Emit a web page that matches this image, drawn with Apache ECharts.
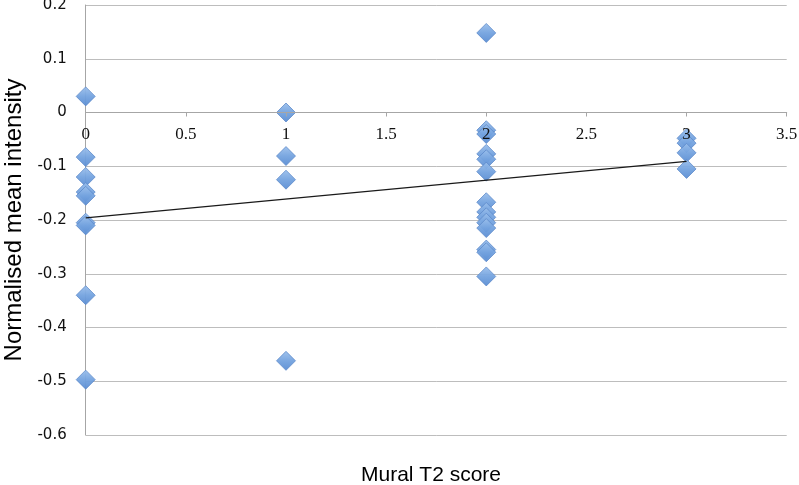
<!DOCTYPE html>
<html>
<head>
<meta charset="utf-8">
<script src="https://cdn.jsdelivr.net/npm/echarts@6/dist/echarts.min.js"></script>
<style>
html,body{margin:0;padding:0;background:#fff;}
#chart{width:799px;height:485px;}
</style>
</head>
<body>
<div id="chart"></div>
<script>
// Mural T2 score groups and normalised mean intensity values
const scores = [0, 1, 2, 3];
const valuesScore0 = [0.03, -0.083, -0.12, -0.148, -0.155, -0.205, -0.21, -0.34, -0.497];
const valuesScore1 = [0.0, -0.081, -0.125, -0.462];
const valuesScore2 = [0.148, -0.033, -0.04, -0.077, -0.087, -0.11, -0.167, -0.185, -0.195, -0.205, -0.215, -0.255, -0.26, -0.305];
const valuesScore3 = [-0.048, -0.057, -0.075, -0.105];
// linear trend line end points (x, y)
const trendX = [0, 3];
const trendY = [-0.196, -0.091];

const xTicks = ['0', '0.5', '1', '1.5', '2', '2.5', '3', '3.5'];
const yTicks = ['-0.6', '-0.5', '-0.4', '-0.3', '-0.2', '-0.1', '0', '0.1', '0.2'];
const yMin = -0.6, yMax = 0.2;

const groups = [valuesScore0, valuesScore1, valuesScore2, valuesScore3];
const points = [];
groups.forEach((vals, i) => vals.forEach(v => points.push([scores[i], v])));
const trend = trendX.map((x, i) => [x, trendY[i]]);

const W = 799, H = 485;
const gridL = 85.7, gridR = 12.3, gridT = 5, gridB = 50;
const plotH = H - gridT - gridB;
// move the x axis (line, ticks, labels) up to y = 0
const zeroOffset = -plotH * (0 - yMin) / (yMax - yMin);

const chart = echarts.init(document.getElementById('chart'), null, {renderer: 'canvas'});
chart.setOption({
  animation: false,
  backgroundColor: '#ffffff',
  grid: {left: gridL, right: gridR, top: gridT, bottom: gridB, outerBoundsMode: 'none', containLabel: false},
  title: {
    text: 'Mural T2 score',
    left: 426, top: 460,
    textAlign: 'center',
    textStyle: {fontFamily: 'Liberation Sans', fontSize: 21, fontWeight: 'normal', color: '#000'}
  },
  xAxis: {
    type: 'value', min: 0, max: 3.5, interval: 0.5,
    offset: zeroOffset,
    z: 5,
    axisLine: {onZero: false, lineStyle: {color: '#a6a6a6', width: 1}},
    axisTick: {show: true, length: 4, inside: false, lineStyle: {color: '#a6a6a6'}},
    axisLabel: {
      margin: 14, color: '#111', fontFamily: 'Liberation Serif', fontSize: 17,
      formatter: v => xTicks[Math.round(v / 0.5)]
    },
    splitLine: {show: false}
  },
  yAxis: {
    type: 'value', min: yMin, max: yMax, interval: 0.1,
    name: 'Normalised mean intensity',
    nameLocation: 'middle', nameGap: 58,
    nameTextStyle: {fontFamily: 'Liberation Sans', fontSize: 24, color: '#000'},
    axisLine: {show: true, onZero: false, lineStyle: {color: '#a6a6a6', width: 1}},
    axisTick: {show: false},
    axisLabel: {
      margin: 19, color: '#111', fontFamily: 'DejaVu Sans', fontSize: 15,
      formatter: v => yTicks[Math.round((v - yMin) / 0.1)]
    },
    splitLine: {show: true, lineStyle: {color: '#bdbdbd', width: 1}}
  },
  series: [
    {
      type: 'scatter',
      symbol: 'diamond',
      symbolSize: 19,
      data: points,
      itemStyle: {
        color: {type: 'linear', x: 0, y: 0, x2: 0, y2: 1,
          colorStops: [{offset: 0, color: '#9cc0ec'}, {offset: 0.5, color: '#74a3df'}, {offset: 1, color: '#5a8dd3'}]},
        borderColor: '#5a88c8', borderWidth: 0.8, opacity: 0.95
      },
      z: 3
    },
    {
      type: 'line',
      data: trend,
      symbol: 'none',
      lineStyle: {color: '#1a1a1a', width: 1.3},
      z: 4
    }
  ]
});
</script>
</body>
</html>
